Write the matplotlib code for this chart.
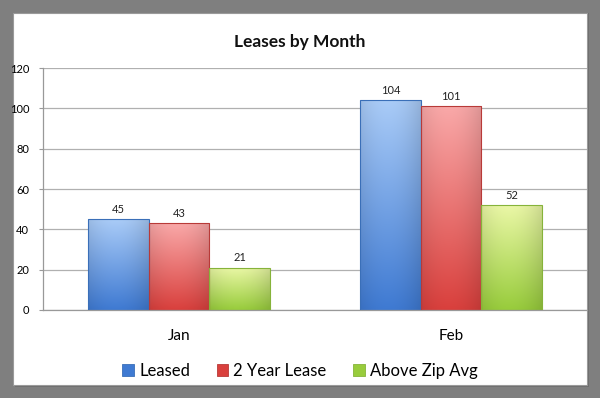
import matplotlib
matplotlib.use("Agg")
import matplotlib.pyplot as plt
from matplotlib.patches import Rectangle, Patch
import numpy as np

plt.rcParams['font.family'] = ['Lato', 'DejaVu Sans']

months = ["Jan", "Feb"]
series = ["Leased", "2 Year Lease", "Above Zip Avg"]
leased = [45, 104]
two_year = [43, 101]
above_zip = [21, 52]
values = [leased, two_year, above_zip]

# (top colour, bottom colour, edge colour) per series
shades = [
    ("#a9cbf7", "#3f7ad2", "#3a6fb8"),
    ("#f9a8a8", "#d9403d", "#b83a38"),
    ("#eaf7a6", "#98cc3c", "#86b33a"),
]


def hex_rgb(h):
    return np.array([int(h[i:i + 2], 16) for i in (1, 3, 5)]) / 255.0


def gradient_bar(ax, bar, top, bottom):
    x0, y0 = bar.get_x(), bar.get_y()
    w, h = bar.get_width(), bar.get_height()
    t = np.linspace(0, 1, 64)[:, None]
    s = np.linspace(0, 1, 32)[None, :]
    col = (1 - t[..., None]) * hex_rgb(top) + t[..., None] * hex_rgb(bottom)
    # slight darkening toward the sides
    side = 1 - 0.10 * (np.abs(s - 0.45) * 2) ** 2
    img = np.clip(col * side[..., None], 0, 1)
    im = ax.imshow(img, extent=[x0, x0 + w, y0, y0 + h], aspect='auto',
                   origin='upper', zorder=2, interpolation='bilinear')
    im.set_clip_path(bar)


fig = plt.figure(figsize=(6, 3.98), dpi=100)
fig.patch.set_facecolor("#7f7f7f")
fig.patches.append(Rectangle((15 / 600, 11 / 398), 574 / 600, 374 / 398,
                             transform=fig.transFigure, facecolor="#6e6e6e",
                             edgecolor="none", zorder=0))
fig.patches.append(Rectangle((13 / 600, 13 / 398), 574 / 600, 372 / 398,
                             transform=fig.transFigure, facecolor="white",
                             edgecolor="#9a9a9a", lw=0.8, zorder=1))

ax = fig.add_axes([43 / 600, 88 / 398, 544 / 600, 242 / 398])
ax.set_facecolor("none")
ax.set_zorder(2)

x = np.arange(len(months))
width = 0.223
for i, (vals, (top, bottom, edge)) in enumerate(zip(values, shades)):
    bars = ax.bar(x + (i - 1) * width, vals, width, facecolor="none",
                  edgecolor=edge, linewidth=0.8, zorder=3)
    for b, v in zip(bars, vals):
        gradient_bar(ax, b, top, bottom)
        ax.annotate(str(v), (b.get_x() + b.get_width() / 2, v),
                    xytext=(0, 3), textcoords="offset points",
                    ha="center", va="bottom", fontsize=8, color="#222222")

ax.set_xlim(-0.5, 1.5)
ax.set_ylim(0, 120)
ax.set_yticks(range(0, 121, 20))
ax.set_xticks(x)
ax.set_xticklabels(months, fontsize=11)
ax.tick_params(axis='x', length=0, pad=14)
ax.tick_params(axis='y', labelsize=8, length=3, color="#999999", pad=7)
ax.grid(axis='y', color="#b0b0b0", linewidth=0.9, zorder=0)
ax.set_axisbelow(True)
for side in ("top", "right"):
    ax.spines[side].set_visible(False)
for side in ("left", "bottom"):
    ax.spines[side].set_color("#999999")
    ax.spines[side].set_linewidth(0.9)

fig.text(0.5, 356 / 398, "Leases by Month", ha="center", va="center",
         fontsize=12.5, fontweight="bold", color="#111111")

handles = [Patch(facecolor=s[1], edgecolor=s[2], lw=0.6) for s in shades]
fig.legend(handles, series, loc="center", bbox_to_anchor=(0.5, 27 / 398),
           ncol=3, frameon=False, fontsize=12, handlelength=0.7,
           handleheight=0.7, handletextpad=0.3, columnspacing=1.6)

fig.savefig("out.png", dpi=100, facecolor=fig.get_facecolor())
